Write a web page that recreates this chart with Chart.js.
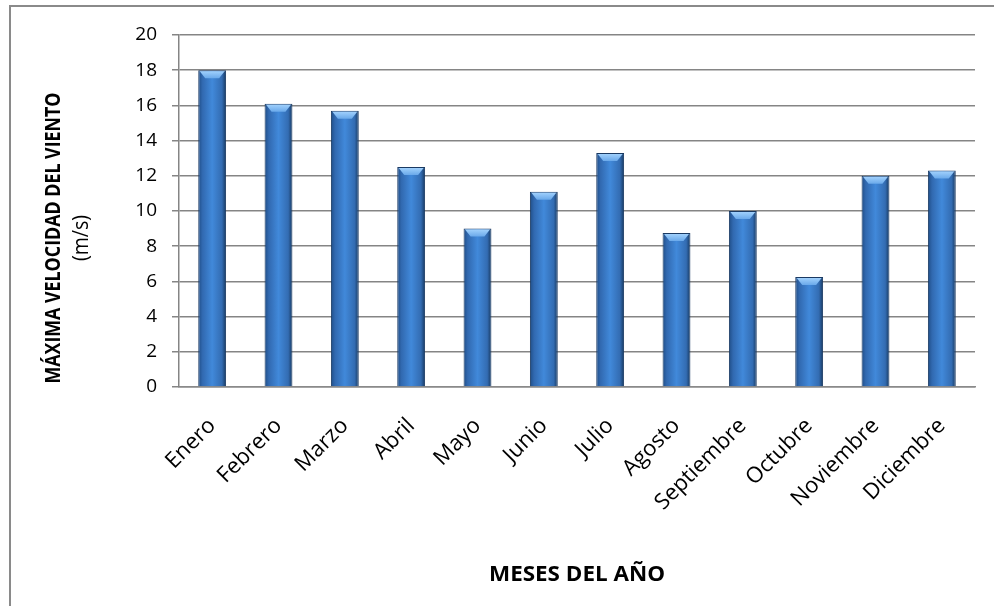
<!DOCTYPE html>
<html>
<head>
<meta charset="utf-8">
<script src="https://cdn.jsdelivr.net/npm/chart.js@4/dist/chart.umd.min.js"></script>
<style>
  html, body { margin: 0; padding: 0; background: #fff; overflow: hidden; }
  #frame { position: absolute; left: 9px; top: 5px; width: 1000px; height: 700px; border: 2px solid #8a8a8a; }
  #wrap { position: absolute; left: 0; top: 0; width: 994px; height: 606px; }
</style>
</head>
<body>
<div id="frame"></div>
<div id="wrap"><canvas id="wind-chart"></canvas></div>
<script>
// meses y velocidad maxima del viento (m/s)
const meses = ['Enero', 'Febrero', 'Marzo', 'Abril', 'Mayo', 'Junio', 'Julio', 'Agosto', 'Septiembre', 'Octubre', 'Noviembre', 'Diciembre'];
const velocidad = [18.0, 16.1, 15.7, 12.5, 9.0, 11.1, 13.3, 8.75, 10.0, 6.25, 12.0, 12.3];
const yTitulo = ['MÁXIMA VELOCIDAD DEL VIENTO', '(m/s)'];
const xTitulo = 'MESES DEL AÑO';

const FONT = '"Open Sans", Lato, sans-serif';
const BAR_PCT = 0.42;

function barGradient(context) {
    const chart = context.chart;
    if (!chart.chartArea) return '#3a78c4';
    const xs = chart.scales.x;
    const cx = xs.getPixelForValue(context.dataIndex);
    const w = xs.width / meses.length * BAR_PCT;
    const g = chart.ctx.createLinearGradient(cx - w / 2, 0, cx + w / 2, 0);
    g.addColorStop(0, '#1f4d86');
    g.addColorStop(0.15, '#3169b0');
    g.addColorStop(0.5, '#4189da');
    g.addColorStop(0.85, '#336cb2');
    g.addColorStop(1, '#17385f');
    return g;
}

// tapa clara en la parte superior de cada barra
const bevelPlugin = {
    id: 'bevel',
    afterDatasetsDraw(chart) {
        const ctx = chart.ctx;
        chart.getDatasetMeta(0).data.forEach(bar => {
            const w = bar.width;
            ctx.save();
            const g = ctx.createLinearGradient(0, bar.y, 0, bar.y + 8);
            g.addColorStop(0, '#a8d6ff');
            g.addColorStop(1, '#6aa9ea');
            ctx.fillStyle = g;
            ctx.beginPath();
            ctx.moveTo(bar.x - w / 2 + 1.5, bar.y + 1);
            ctx.lineTo(bar.x + w / 2 - 1.5, bar.y + 1);
            ctx.lineTo(bar.x + w / 2 - 7, bar.y + 8);
            ctx.lineTo(bar.x - w / 2 + 7, bar.y + 8);
            ctx.closePath();
            ctx.fill();
            ctx.restore();
        });
    }
};

// texto estrechado a un ancho dado (imita Calibri)
function fitText(ctx, text, x, y, width) {
    const m = ctx.measureText(text).width;
    ctx.save();
    ctx.translate(x, y);
    ctx.scale(width / m, 1);
    ctx.fillText(text, 0, 0);
    ctx.restore();
}

// titulos de los ejes
const titlesPlugin = {
    id: 'axisTitles',
    afterDraw(chart) {
        const ctx = chart.ctx;
        const a = chart.chartArea;
        ctx.save();
        ctx.fillStyle = '#000';
        ctx.textAlign = 'center';
        ctx.textBaseline = 'middle';
        ctx.font = 'bold 22px ' + FONT;
        fitText(ctx, xTitulo, (a.left + a.right) / 2, 575, 176);
        ctx.translate(0, 238);
        ctx.rotate(-Math.PI / 2);
        ctx.font = 'bold 21px ' + FONT;
        fitText(ctx, yTitulo[0], 0, 54, 291);
        ctx.font = '21px ' + FONT;
        fitText(ctx, yTitulo[1], 0, 82, 46);
        ctx.restore();
    }
};

const ctx = document.getElementById('wind-chart').getContext('2d');
new Chart(ctx, {
    type: 'bar',
    data: {
        labels: meses,
        datasets: [{
            label: 'Velocidad',
            data: velocidad,
            backgroundColor: barGradient,
            borderColor: '#1a3a63',
            borderWidth: 1,
            categoryPercentage: 1,
            barPercentage: BAR_PCT
        }]
    },
    options: {
        responsive: true,
        maintainAspectRatio: false,
        animation: false,
        layout: { padding: { top: 35, right: 19, left: 0, bottom: 0 } },
        plugins: {
            legend: { display: false },
            tooltip: { enabled: false }
        },
        scales: {
            x: {
                grid: { display: false, drawTicks: false },
                border: { color: '#8a8a8a', width: 1.5 },
                ticks: {
                    color: '#000',
                    font: { family: FONT, size: 22 },
                    maxRotation: 45,
                    minRotation: 45,
                    autoSkip: false,
                    padding: 26
                },
                afterFit: scale => { scale.height = 219; }
            },
            y: {
                min: 0,
                max: 20,
                grid: { color: '#858585', lineWidth: 1.5, tickLength: 7 },
                border: { color: '#858585', width: 1.5 },
                ticks: {
                    stepSize: 2,
                    color: '#000',
                    font: { family: FONT, size: 19 },
                    padding: 15
                },
                afterFit: scale => { scale.width = 179; }
            }
        }
    },
    plugins: [bevelPlugin, titlesPlugin]
});
</script>
</body>
</html>
